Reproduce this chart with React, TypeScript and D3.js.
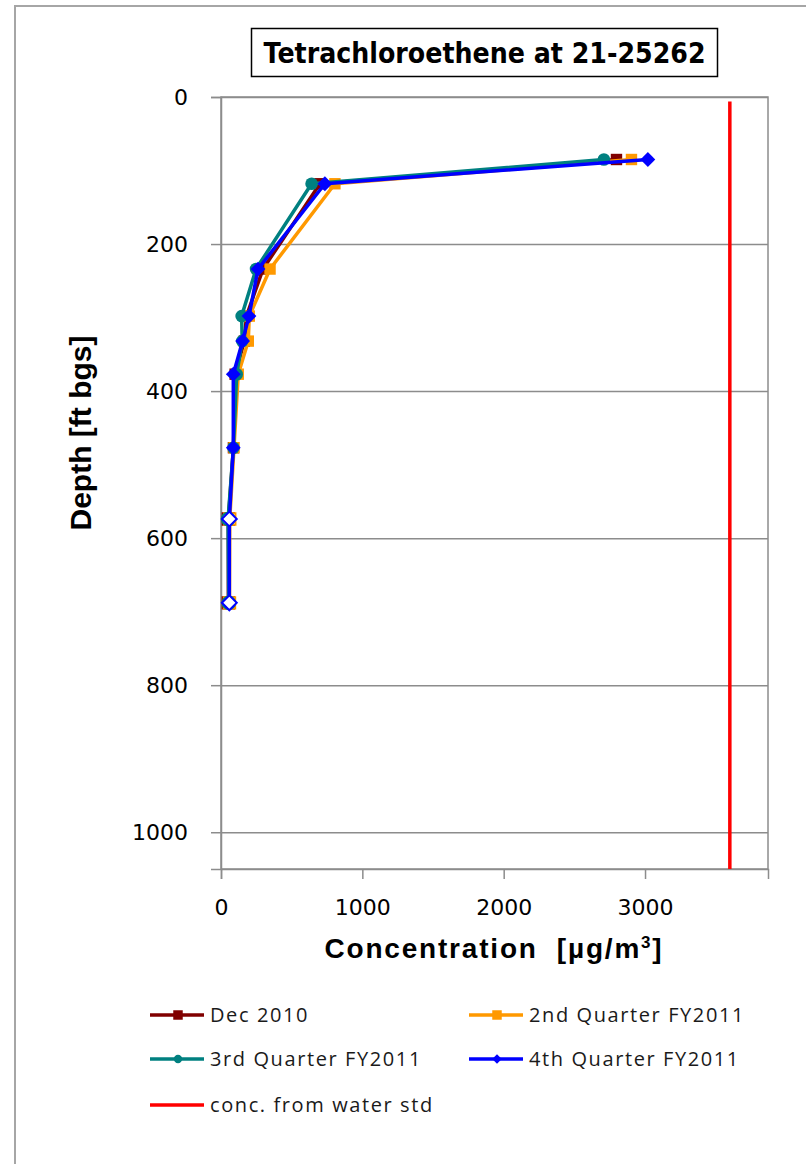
import React, { useEffect, useRef } from "react";
import * as d3 from "d3";

// depth below ground surface (ft bgs) of each sample port
const depths = [85, 118, 234, 298, 332, 377, 477, 574, 688];
// concentrations (µg/m3) per sampling event, same order as depths
const dec2010 = [2798, 700, 297, 180, 165, 100, 88, 52, 52];
const q2fy2011 = [2904, 806, 347, 200, 193, 122, 92, 62, 60];
const q3fy2011 = [2709, 641, 248, 146, 150, 111, 88, 50, 55];
const q4fy2011 = [3020, 735, 262, 198, 153, 87, 87, 59, 59];
// ports drawn with open markers
const openMarker = [false, false, false, false, false, false, false, true, true];

const waterStdConc = [3600, 3600];
const waterStdDepths = [6, 1050];

const depthTicks = [0, 200, 400, 600, 800, 1000];
const concTicks = [0, 1000, 2000, 3000];

const seriesNames = ["Dec 2010", "2nd Quarter FY2011", "3rd Quarter FY2011", "4th Quarter FY2011"];
const waterStdName = "conc. from water std";
const chartTitle = "Tetrachloroethene at 21-25262";

const W = 806;
const H = 1164;

export default function App() {
  const ref = useRef<SVGSVGElement>(null);

  useEffect(() => {
    const svg = d3.select(ref.current);
    svg.selectAll("*").remove();

    const plot = { left: 221, top: 97, right: 768, bottom: 869 };
    const x = d3.scaleLinear().domain([0, 3870]).range([plot.left, plot.right]);
    const y = d3.scaleLinear().domain([0, 1050]).range([plot.top, plot.bottom]);

    const series = [
      { name: seriesNames[0], values: dec2010, color: "#800000", shape: "square" },
      { name: seriesNames[1], values: q2fy2011, color: "#FF9900", shape: "square" },
      { name: seriesNames[2], values: q3fy2011, color: "#008080", shape: "circle" },
      { name: seriesNames[3], values: q4fy2011, color: "#0000FF", shape: "diamond" },
    ];

    const symbolPath = (shape: string, big: boolean) => {
      if (shape === "circle") return d3.symbol(d3.symbolCircle, big ? 125 : 55)();
      if (shape === "diamond") return d3.symbol(d3.symbolSquare, big ? 110 : 45)();
      return d3.symbol(d3.symbolSquare, big ? 130 : 90)();
    };

    // outer chart border
    svg.append("rect")
      .attr("x", 15).attr("y", 6)
      .attr("width", W).attr("height", H)
      .attr("fill", "white")
      .attr("stroke", "#a6a6a6")
      .attr("stroke-width", 2);

    // gridlines
    svg.append("g")
      .attr("transform", `translate(${plot.left},0)`)
      .call(d3.axisLeft(y).tickValues(depthTicks).tickSize(-(plot.right - plot.left)).tickFormat(() => ""))
      .call(g => g.select(".domain").remove())
      .selectAll("line")
      .attr("stroke", "#8c8c8c")
      .attr("stroke-width", 1.5);

    // plot frame
    svg.append("rect")
      .attr("x", plot.left).attr("y", plot.top)
      .attr("width", plot.right - plot.left).attr("height", plot.bottom - plot.top)
      .attr("fill", "none")
      .attr("stroke", "#8c8c8c")
      .attr("stroke-width", 1.5);

    // y axis
    const yAxis = svg.append("g")
      .attr("transform", `translate(${plot.left},0)`)
      .call(d3.axisLeft(y).tickValues(depthTicks).tickFormat(d3.format("d")).tickSize(10).tickPadding(23));
    yAxis.selectAll("line, path").attr("stroke", "#8c8c8c").attr("stroke-width", 1.5);
    yAxis.selectAll("text")
      .style("font-family", "DejaVu Sans, Verdana, sans-serif")
      .style("font-size", "22px")
      .attr("fill", "#000");

    // x axis
    const xAxis = svg.append("g")
      .attr("transform", `translate(0,${plot.bottom})`)
      .call(d3.axisBottom(x).tickValues(concTicks).tickFormat(d3.format("d")).tickSize(10).tickPadding(20));
    xAxis.selectAll("line, path").attr("stroke", "#8c8c8c").attr("stroke-width", 1.5);
    xAxis.selectAll("text")
      .style("font-family", "DejaVu Sans, Verdana, sans-serif")
      .style("font-size", "22px")
      .attr("fill", "#000");

    // water-standard line
    svg.append("path")
      .datum(d3.zip(waterStdConc, waterStdDepths))
      .attr("d", d3.line<number[]>().x(d => x(d[0])).y(d => y(d[1])))
      .attr("fill", "none")
      .attr("stroke", "#FF0000")
      .attr("stroke-width", 3.5);

    // profiles
    series.forEach(s => {
      const pts = d3.zip(s.values, depths);
      svg.append("path")
        .datum(pts)
        .attr("d", d3.line<number[]>().x(d => x(d[0])).y(d => y(d[1])))
        .attr("fill", "none")
        .attr("stroke", s.color)
        .attr("stroke-width", 3.5)
        .attr("stroke-linejoin", "round");
      svg.append("g")
        .selectAll("path")
        .data(pts)
        .enter().append("path")
        .attr("d", symbolPath(s.shape, true))
        .attr("transform", d => `translate(${x(d[0])},${y(d[1])})${s.shape === "diamond" ? " rotate(45)" : ""}`)
        .attr("fill", (d, i) => (openMarker[i] ? "white" : s.color))
        .attr("stroke", s.color)
        .attr("stroke-width", (d, i) => (openMarker[i] ? 2 : 0));
    });

    // title box
    svg.append("rect")
      .attr("x", 251.5).attr("y", 28.5)
      .attr("width", 466).attr("height", 48)
      .attr("fill", "white")
      .attr("stroke", "#000")
      .attr("stroke-width", 1.5);
    svg.append("text")
      .attr("x", 484.5).attr("y", 63)
      .attr("text-anchor", "middle")
      .style("font-family", "DejaVu Sans, Verdana, sans-serif")
      .style("font-weight", "bold")
      .style("font-size", "28px")
      .attr("textLength", 442)
      .attr("lengthAdjust", "spacingAndGlyphs")
      .text(chartTitle);

    // axis titles
    const xt = svg.append("text")
      .attr("x", 494).attr("y", 958)
      .attr("text-anchor", "middle")
      .style("font-family", "Liberation Sans, Arial, sans-serif")
      .style("font-weight", "bold")
      .style("font-size", "28px")
      .style("letter-spacing", "1.8px");
    xt.append("tspan").text("Concentration\u00A0\u00A0[µg/m");
    xt.append("tspan").attr("dy", -10).style("font-size", "17px").text("3");
    xt.append("tspan").attr("dy", 10).text("]");

    svg.append("text")
      .attr("transform", `translate(91,433) rotate(-90)`)
      .attr("text-anchor", "middle")
      .style("font-family", "Liberation Sans, Arial, sans-serif")
      .style("font-weight", "bold")
      .style("font-size", "30px")
      .text("Depth [ft bgs]");

    // legend
    const legendItems = [
      { ...series[0], lx: 150, ly: 1015 },
      { ...series[1], lx: 469, ly: 1015 },
      { ...series[2], lx: 150, ly: 1059 },
      { ...series[3], lx: 469, ly: 1059 },
      { name: waterStdName, color: "#FF0000", shape: "none", lx: 150, ly: 1105 },
    ];
    const lg = svg.append("g")
      .selectAll("g")
      .data(legendItems)
      .enter().append("g")
      .attr("transform", d => `translate(${d.lx},${d.ly})`);
    lg.append("line")
      .attr("x1", 0).attr("x2", 54)
      .attr("stroke", d => d.color)
      .attr("stroke-width", 3.5);
    lg.filter(d => d.shape !== "none")
      .append("path")
      .attr("d", d => symbolPath(d.shape, false))
      .attr("transform", d => `translate(28,0)${d.shape === "diamond" ? " rotate(45)" : ""}`)
      .attr("fill", d => d.color);
    lg.append("text")
      .attr("x", 60).attr("dy", "0.35em")
      .style("font-family", "Open Sans, sans-serif")
      .style("font-size", "20px")
      .style("letter-spacing", "1.6px")
      .attr("fill", "#1a1a1a")
      .text(d => d.name);
  }, []);

  return (
    <div style={{ position: "absolute", left: 0, top: 0, width: W, height: H, overflow: "hidden", background: "white" }}>
      <svg ref={ref} width={W} height={H}></svg>
    </div>
  );
}
